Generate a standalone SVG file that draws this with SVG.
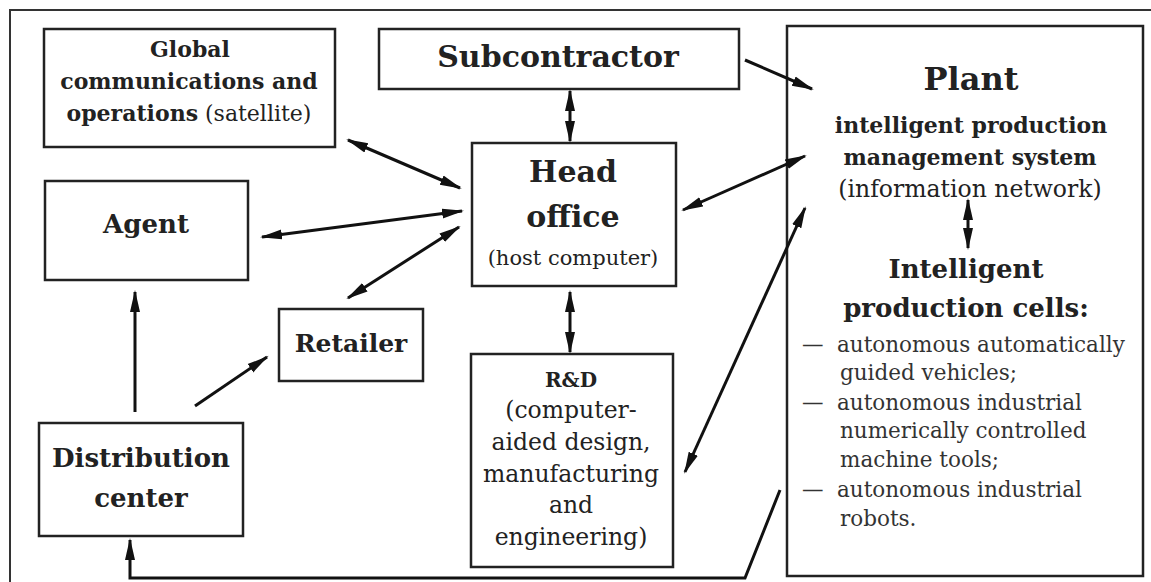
<svg xmlns="http://www.w3.org/2000/svg" width="1151" height="582" viewBox="0 0 1151 582">
<style>
.box{fill:#fff;stroke:#222;stroke-width:2.5}
.t{font-family:"DejaVu Serif","Liberation Serif",serif;fill:#222;text-anchor:middle}
.b{font-weight:bold}
.l{font-family:"DejaVu Serif","Liberation Serif",serif;fill:#333;font-size:21.5px}
.c{stroke:#111;stroke-width:3;fill:none}
</style>
<defs>
<marker id="ah" markerUnits="userSpaceOnUse" markerWidth="24" markerHeight="12" refX="20" refY="6" orient="auto-start-reverse" viewBox="0 0 24 12">
<path d="M0,1 L22,6 L0,11 z" fill="#111"/>
</marker>
</defs>
<rect width="1151" height="582" fill="#fff"/>
<path d="M10,582 V10 H1151" fill="none" stroke="#333" stroke-width="2"/>

<g id="global">
<rect class="box" x="44" y="29" width="291" height="118"/>
<text class="t b" x="190" y="57" font-size="22">Global</text>
<text class="t b" x="189" y="89" font-size="22">communications and</text>
<text class="t" x="189" y="121" font-size="22"><tspan font-weight="bold">operations</tspan> (satellite)</text>
</g>

<g id="subcontractor">
<rect class="box" x="379" y="29" width="360" height="60"/>
<text class="t b" x="558" y="67" font-size="30">Subcontractor</text>
</g>

<g id="head">
<rect class="box" x="472" y="143" width="204" height="143"/>
<text class="t b" x="573" y="182" font-size="30">Head</text>
<text class="t b" x="573" y="227" font-size="30">office</text>
<text class="t" x="573" y="265" font-size="21">(host computer)</text>
</g>

<g id="agent">
<rect class="box" x="45" y="181" width="203" height="99"/>
<text class="t b" x="146" y="233" font-size="26">Agent</text>
</g>

<g id="retailer">
<rect class="box" x="279" y="309" width="144" height="72"/>
<text class="t b" x="351" y="352" font-size="25">Retailer</text>
</g>

<g id="distribution">
<rect class="box" x="39" y="423" width="204" height="113"/>
<text class="t b" x="141" y="467" font-size="26">Distribution</text>
<text class="t b" x="141" y="507" font-size="26">center</text>
</g>

<g id="rnd">
<rect class="box" x="471" y="354" width="202" height="213"/>
<text class="t b" x="571" y="387" font-size="20">R&amp;D</text>
<text class="t" x="571" y="418" font-size="23.5">(computer-</text>
<text class="t" x="571" y="450" font-size="23.5">aided design,</text>
<text class="t" x="571" y="482" font-size="23.5">manufacturing</text>
<text class="t" x="571" y="513" font-size="23.5">and</text>
<text class="t" x="571" y="545" font-size="23.5">engineering)</text>
</g>

<g id="plant">
<rect class="box" x="787" y="26" width="356" height="550"/>
<text class="t b" x="971" y="90" font-size="32">Plant</text>
<text class="t b" x="971" y="133" font-size="22">intelligent production</text>
<text class="t b" x="970" y="165" font-size="22">management system</text>
<text class="t" x="970" y="197" font-size="23.5">(information network)</text>
<text class="t b" x="966" y="278" font-size="26">Intelligent</text>
<text class="t b" x="966" y="317" font-size="26">production cells:</text>
<text class="l" y="352"><tspan x="802">—</tspan><tspan x="837">autonomous automatically</tspan></text>
<text class="l" x="840" y="380">guided vehicles;</text>
<text class="l" y="410"><tspan x="802">—</tspan><tspan x="837">autonomous industrial</tspan></text>
<text class="l" x="840" y="438">numerically controlled</text>
<text class="l" x="840" y="467">machine tools;</text>
<text class="l" y="497"><tspan x="802">—</tspan><tspan x="837">autonomous industrial</tspan></text>
<text class="l" x="840" y="526">robots.</text>
</g>

<g id="connectors">
<line class="c" x1="348" y1="140" x2="460" y2="188" marker-start="url(#ah)" marker-end="url(#ah)"/>
<line class="c" x1="262" y1="237" x2="462" y2="211" marker-start="url(#ah)" marker-end="url(#ah)"/>
<line class="c" x1="348" y1="298" x2="459" y2="227" marker-start="url(#ah)" marker-end="url(#ah)"/>
<line class="c" x1="570" y1="91" x2="570" y2="141" marker-start="url(#ah)" marker-end="url(#ah)"/>
<line class="c" x1="570" y1="292" x2="570" y2="352" marker-start="url(#ah)" marker-end="url(#ah)"/>
<line class="c" x1="745" y1="60" x2="812" y2="89" marker-end="url(#ah)"/>
<line class="c" x1="683" y1="210" x2="805" y2="156" marker-start="url(#ah)" marker-end="url(#ah)"/>
<line class="c" x1="685" y1="472" x2="805" y2="208" marker-start="url(#ah)" marker-end="url(#ah)"/>
<line class="c" x1="968" y1="200" x2="968" y2="248" marker-start="url(#ah)" marker-end="url(#ah)"/>
<line class="c" x1="135" y1="412" x2="135" y2="292" marker-end="url(#ah)"/>
<line class="c" x1="195" y1="406" x2="267" y2="357" marker-end="url(#ah)"/>
<path class="c" d="M780,490 L745,578 L130,578 L130,540" marker-end="url(#ah)"/>
</g>
</svg>
